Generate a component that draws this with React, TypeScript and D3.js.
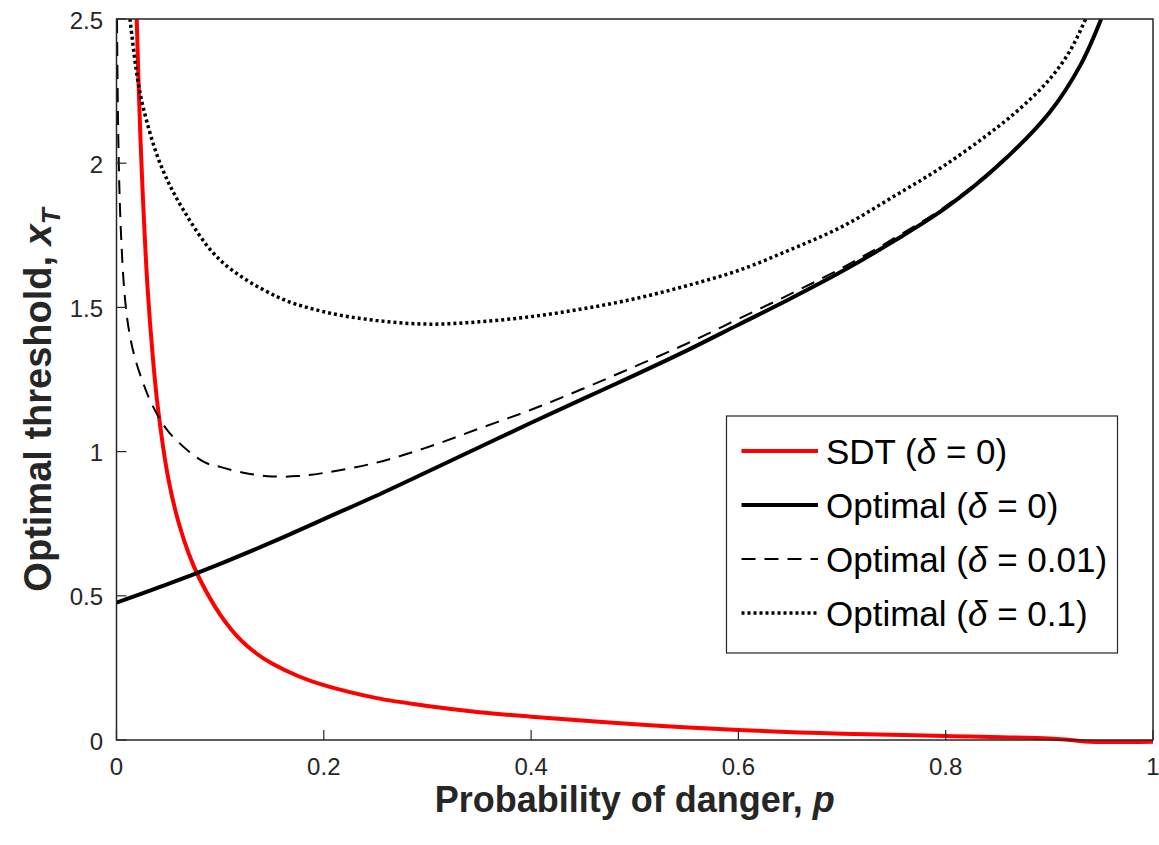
import React from 'react';
import * as d3 from 'd3';

// ---- data ----
const xTicks = [0, 0.2, 0.4, 0.6, 0.8, 1];
const xTickLabels = ['0', '0.2', '0.4', '0.6', '0.8', '1'];
const yTicks = [0, 0.5, 1, 1.5, 2, 2.5];
const yTickLabels = ['0', '0.5', '1', '1.5', '2', '2.5'];

const sdtP = [0.0195, 0.022, 0.025, 0.03, 0.035, 0.04, 0.05, 0.06, 0.07, 0.08, 0.1, 0.12, 0.135, 0.15, 0.175, 0.2, 0.25, 0.3, 0.35, 0.4, 0.5, 0.6, 0.7, 0.8, 0.9, 0.92, 0.94, 1.0];
const sdtX = [2.5, 2.2, 1.92, 1.567, 1.33, 1.15, 0.906, 0.753, 0.643, 0.56, 0.435, 0.346, 0.30, 0.265, 0.222, 0.19, 0.146, 0.118, 0.0966, 0.081, 0.055, 0.035, 0.022, 0.0138, 0.005, 0.0, -0.006, -0.006];

const opt0P = [0, 0.05, 0.1, 0.15, 0.2, 0.25, 0.3, 0.35, 0.4, 0.45, 0.5, 0.55, 0.6, 0.65, 0.7, 0.75, 0.8, 0.85, 0.9, 0.93, 0.95];
const opt0X = [0.476, 0.541, 0.611, 0.686, 0.766, 0.846, 0.93, 1.015, 1.1, 1.183, 1.265, 1.35, 1.44, 1.53, 1.625, 1.73, 1.845, 1.99, 2.175, 2.34, 2.5];

const opt001P = [0.0005, 0.00145, 0.0029, 0.0048, 0.0077, 0.0116, 0.0174, 0.026, 0.0347, 0.0511, 0.0839, 0.1, 0.125, 0.15, 0.175, 0.2, 0.25, 0.3, 0.35, 0.4, 0.45, 0.5, 0.55, 0.6, 0.65, 0.7, 0.75, 0.8, 0.85, 0.9, 0.93, 0.95];
const opt001X = [2.5, 2.15, 1.9, 1.72, 1.55, 1.43, 1.33, 1.235, 1.16, 1.065, 0.965, 0.947, 0.925, 0.914, 0.915, 0.926, 0.961, 1.015, 1.08, 1.145, 1.218, 1.295, 1.374, 1.46, 1.546, 1.637, 1.739, 1.851, 1.994, 2.177, 2.341, 2.5];

const opt01P = [0.013, 0.02, 0.026, 0.042, 0.0645, 0.1, 0.155, 0.2, 0.25, 0.3, 0.35, 0.4, 0.45, 0.5, 0.55, 0.6, 0.65, 0.7, 0.75, 0.8, 0.85, 0.875, 0.9, 0.92, 0.935];
const opt01X = [2.5, 2.3, 2.19, 2.0, 1.838, 1.664, 1.537, 1.485, 1.455, 1.442, 1.45, 1.468, 1.495, 1.53, 1.575, 1.628, 1.70, 1.78, 1.885, 1.995, 2.125, 2.2, 2.29, 2.39, 2.5];

const legendLabels = ['SDT', 'Optimal', 'Optimal', 'Optimal'];
const legendDeltas = ['0', '0', '0.01', '0.1'];

const FONT = "'Liberation Sans', Arial, Helvetica, sans-serif";
const AX = '#262626';

export default function App() {
  const W = 1159, H = 845;
  const L = 116.5, R = 1153, T = 19, B = 740;
  const x = d3.scaleLinear().domain([0, 1]).range([L, R]);
  const y = d3.scaleLinear().domain([0, 2.5]).range([B, T]);
  const line = d3.line<[number, number]>()
    .x(d => x(d[0])).y(d => y(d[1]))
    .curve(d3.curveCatmullRom.alpha(0.5));
  const zip = (ps: number[], vs: number[]) => ps.map((p, i) => [p, vs[i]] as [number, number]);

  const series = [
    { d: zip(sdtP, sdtX), stroke: '#ff0000', w: 4, dash: undefined as string | undefined },
    { d: zip(opt0P, opt0X), stroke: '#000', w: 4, dash: undefined },
    { d: zip(opt001P, opt001X), stroke: '#000', w: 2, dash: '14,9' },
    { d: zip(opt01P, opt01X), stroke: '#000', w: 3.5, dash: '3,3' },
  ];

  const legX = 726.5, legY = 416, legW = 391, legH = 237;
  const rowY = [451, 505, 559, 613];

  return (
    <svg width={W} height={H} style={{ position: 'absolute', left: 0, top: 0, background: '#fff' }} fontFamily={FONT}>
      <defs>
        <clipPath id="plotclip">
          <rect x={L} y={T} width={R - L} height={B - T + 4} />
        </clipPath>
      </defs>
      <rect x={0} y={0} width={W} height={H} fill="#fff" />
      <g clipPath="url(#plotclip)">
        {series.map((s, i) => (
          <path key={i} d={line(s.d) || ''} fill="none" stroke={s.stroke} strokeWidth={s.w} strokeDasharray={s.dash} strokeLinejoin="round" />
        ))}
      </g>
      {/* axes box */}
      <rect x={L} y={T} width={R - L} height={B - T} fill="none" stroke={AX} strokeWidth={1.5} />
      {/* x ticks */}
      {xTicks.map((t, i) => (
        <g key={'xt' + i}>
          <line x1={x(t)} x2={x(t)} y1={B} y2={B - 10} stroke={AX} strokeWidth={1.2} />
          <text x={x(t)} y={766} fontSize={24} fill={AX} textAnchor="middle" dominantBaseline="central">{xTickLabels[i]}</text>
        </g>
      ))}
      {/* y ticks */}
      {yTicks.map((t, i) => (
        <g key={'yt' + i}>
          <line x1={L} x2={L + 10} y1={y(t)} y2={y(t)} stroke={AX} strokeWidth={1.2} />
          <text x={103} y={y(t) + 1} fontSize={24} fill={AX} textAnchor="end" dominantBaseline="central">{yTickLabels[i]}</text>
        </g>
      ))}
      {/* axis labels */}
      <text x={(L + R) / 2} y={812} fontSize={36} fontWeight="bold" fill={AX} textAnchor="middle">
        Probability of danger, <tspan fontStyle="italic">p</tspan>
      </text>
      <text transform={`translate(51, 400) rotate(-90)`} fontSize={38} fontWeight="bold" fill={AX} textAnchor="middle">
        Optimal threshold, <tspan fontStyle="italic">x</tspan><tspan fontStyle="italic" fontSize={26} dy={9}>T</tspan>
      </text>
      {/* legend */}
      <rect x={legX} y={legY} width={legW} height={legH} fill="#fff" stroke={AX} strokeWidth={1.2} />
      {series.map((s, i) => (
        <g key={'lg' + i}>
          <line x1={741.5} x2={818} y1={rowY[i]} y2={rowY[i]} stroke={s.stroke} strokeWidth={s.w} strokeDasharray={s.dash} />
          <text x={826} y={rowY[i]} fontSize={35} fill="#000" dominantBaseline="central">
            {legendLabels[i]} (<tspan fontStyle="italic">δ</tspan> = {legendDeltas[i]})
          </text>
        </g>
      ))}
    </svg>
  );
}
